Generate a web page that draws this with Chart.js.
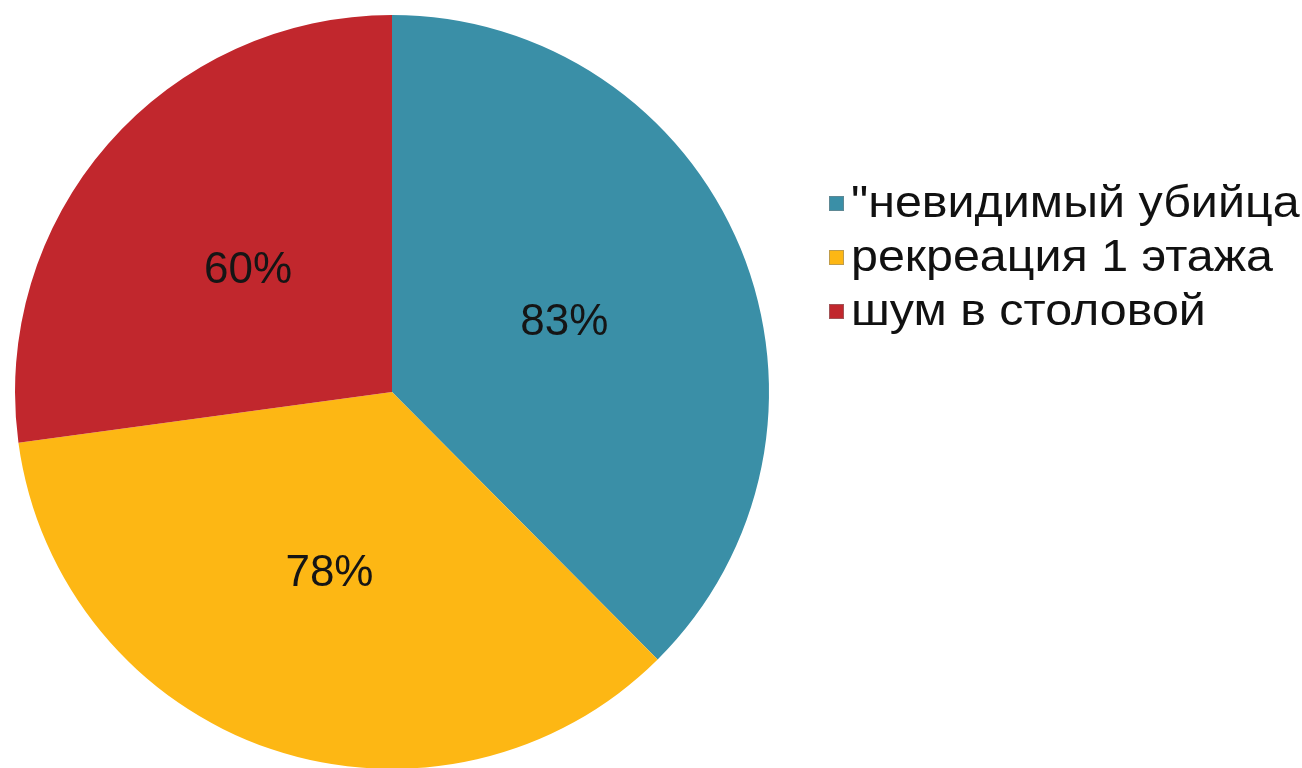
<!DOCTYPE html>
<html>
<head>
<meta charset="utf-8">
<script src="https://cdn.jsdelivr.net/npm/chart.js@4.4.0/dist/chart.umd.min.js"></script>
<style>
  html, body { margin: 0; padding: 0; background: #fff; overflow: hidden; }
  #wrap { position: relative; width: 1302px; height: 780px; }
</style>
</head>
<body>
<div id="wrap"><canvas id="chart1"></canvas></div>
<script>
const categories = ['"невидимый убийца', 'рекреация 1 этажа', 'шум в столовой'];
const values = [83, 78, 60];
const valueLabels = ['83%', '78%', '60%'];
const colors = ['#3a8fa7', '#fdb714', '#c1272d'];

// Подписи значений внутри секторов
const sliceLabels = {
    id: 'sliceLabels',
    afterDatasetsDraw(chart) {
        const ctx = chart.ctx;
        const meta = chart.getDatasetMeta(0);
        ctx.save();
        ctx.font = '44px "Liberation Sans", Arial, sans-serif';
        ctx.fillStyle = '#151515';
        ctx.textAlign = 'center';
        ctx.textBaseline = 'middle';
        meta.data.forEach((arc, i) => {
            const p = arc.tooltipPosition();
            ctx.fillText(valueLabels[i], p.x - 2, p.y + 3);
        });
        ctx.restore();
    }
};

// Легенда справа
const sideLegend = {
    id: 'sideLegend',
    afterDraw(chart) {
        const ctx = chart.ctx;
        ctx.save();
        ctx.font = '44px "Liberation Sans", Arial, sans-serif';
        ctx.textBaseline = 'alphabetic';
        ctx.textAlign = 'left';
        categories.forEach((label, i) => {
            const base = 217 + i * 54;
            ctx.fillStyle = colors[i];
            ctx.fillRect(829, base - 21, 15, 15);
            ctx.strokeStyle = 'rgba(130,130,130,0.5)';
            ctx.lineWidth = 1;
            ctx.strokeRect(829.5, base - 20.5, 14, 14);
            ctx.fillStyle = '#111';
            ctx.save();
            ctx.translate(851, base);
            ctx.scale(1.1, 1);
            ctx.fillText(label, 0, 0);
            ctx.restore();
        });
        ctx.restore();
    }
};

const ctx1 = document.getElementById('chart1').getContext('2d');
new Chart(ctx1, {
    type: 'pie',
    data: {
        labels: categories,
        datasets: [{
            data: values,
            backgroundColor: colors,
            borderWidth: 0
        }]
    },
    options: {
        responsive: true,
        maintainAspectRatio: false,
        animation: false,
        layout: { padding: { left: 15, top: 15, right: 533, bottom: 11 } },
        plugins: {
            legend: { display: false },
            tooltip: { enabled: false }
        }
    },
    plugins: [sliceLabels, sideLegend]
});
</script>
</body>
</html>
